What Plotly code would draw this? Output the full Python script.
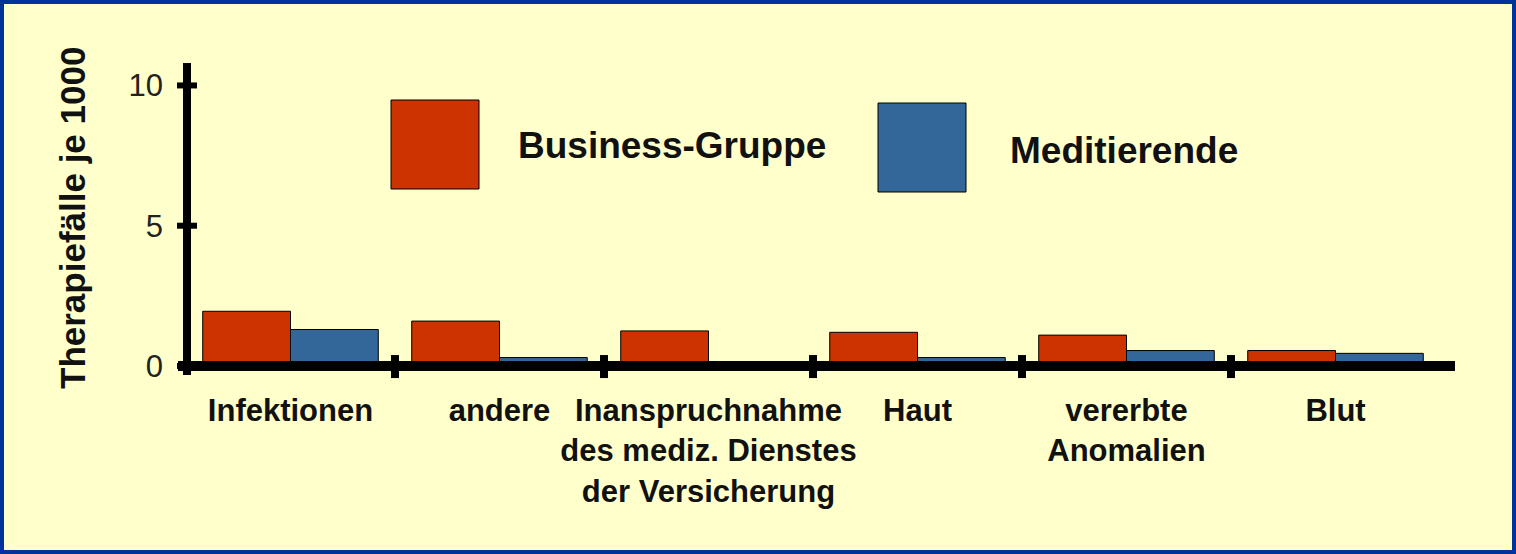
import plotly.graph_objects as go

# data
categories = ["Infektionen", "andere", "Inanspruchnahme<br>des mediz. Dienstes<br>der Versicherung",
              "Haut", "vererbte<br>Anomalien", "Blut"]
business = [1.95, 1.6, 1.25, 1.2, 1.1, 0.55]
meditierende = [1.3, 0.3, 0.0, 0.3, 0.55, 0.45]
y_ticks = [0, 5, 10]

W, H = 1516, 554
ML, MR, MT, MB = 186, 76, 63, 174
PW, PH = W - ML - MR, H - MT - MB

def px(x):
    return (x - ML) / PW

def py(y):
    return (H - MB - y) / PH

bold_font = "Liberation Sans, Arial"

fig = go.Figure()
x = list(range(len(categories)))
fig.add_trace(go.Bar(x=x, y=business, name="Business-Gruppe",
                     marker=dict(color="#CC3300", line=dict(color="black", width=1))))
fig.add_trace(go.Bar(x=x, y=meditierende, name="Meditierende",
                     marker=dict(color="#336699", line=dict(color="black", width=1))))

shapes = []
# axes drawn by hand (thick black lines)
shapes.append(dict(type="line", xref="paper", yref="y", x0=px(178), x1=px(1455), y0=0, y1=0,
                   line=dict(color="black", width=10), layer="above"))
shapes.append(dict(type="line", xref="paper", yref="y", x0=px(187), x1=px(187), y0=-0.32, y1=10.8,
                   line=dict(color="black", width=8), layer="above"))
for t in y_ticks:
    shapes.append(dict(type="line", xref="paper", yref="y", x0=px(177), x1=px(197), y0=t, y1=t,
                       line=dict(color="black", width=6), layer="above"))
for i in range(len(categories) - 1):
    shapes.append(dict(type="line", xref="x", yref="y", x0=i + 0.5, x1=i + 0.5, y0=-0.43, y1=0.39,
                       line=dict(color="black", width=8), layer="above"))

# legend boxes
shapes.append(dict(type="rect", xref="paper", yref="paper", x0=px(391), x1=px(479), y0=py(189), y1=py(100),
                   fillcolor="#CC3300", line=dict(color="black", width=1)))
shapes.append(dict(type="rect", xref="paper", yref="paper", x0=px(878), x1=px(966), y0=py(192), y1=py(103),
                   fillcolor="#336699", line=dict(color="black", width=1)))
# frame
shapes.append(dict(type="rect", xref="paper", yref="paper", x0=px(0), x1=px(W), y0=py(H), y1=py(0),
                   line=dict(color="#003399", width=8)))

annotations = [
    dict(text="<b>Business-Gruppe</b>", xref="paper", yref="paper", x=px(516), y=py(145),
         xanchor="left", yanchor="middle", showarrow=False, font=dict(family=bold_font, size=37, color="#111")),
    dict(text="<b>Meditierende</b>", xref="paper", yref="paper", x=px(1008), y=py(150),
         xanchor="left", yanchor="middle", showarrow=False, font=dict(family=bold_font, size=37, color="#111")),
    dict(text="<b>Therapiefälle je 1000</b>", xref="paper", yref="paper", x=px(72), y=py(218),
         xanchor="center", yanchor="middle", textangle=-90, showarrow=False,
         font=dict(family=bold_font, size=35, color="#111")),
]

fig.update_layout(
    width=W, height=H,
    margin=dict(l=ML, r=MR, t=MT, b=MB),
    paper_bgcolor="#FFFFCC", plot_bgcolor="#FFFFCC",
    barmode="group", bargap=0.16, bargroupgap=0,
    showlegend=False,
    shapes=shapes, annotations=annotations,
)
fig.update_xaxes(range=[-0.5, 5.5], tickvals=x,
                 ticktext=["<b>" + c.replace("<br>", "</b><br><b>") + "</b>" for c in categories],
                 tickfont=dict(family=bold_font, size=31, color="#111"),
                 showgrid=False, zeroline=False, showline=False, ticks="", ticklabelstandoff=9)
fig.update_yaxes(range=[-0.5, 10.8], tickvals=y_ticks,
                 tickfont=dict(family="Liberation Sans, Arial", size=31, color="#222"),
                 showgrid=False, zeroline=False, showline=False, ticks="", ticklabelstandoff=22)

fig.write_html("out.html", config={"displayModeBar": False},
               post_script="document.body.style.margin='0';")
